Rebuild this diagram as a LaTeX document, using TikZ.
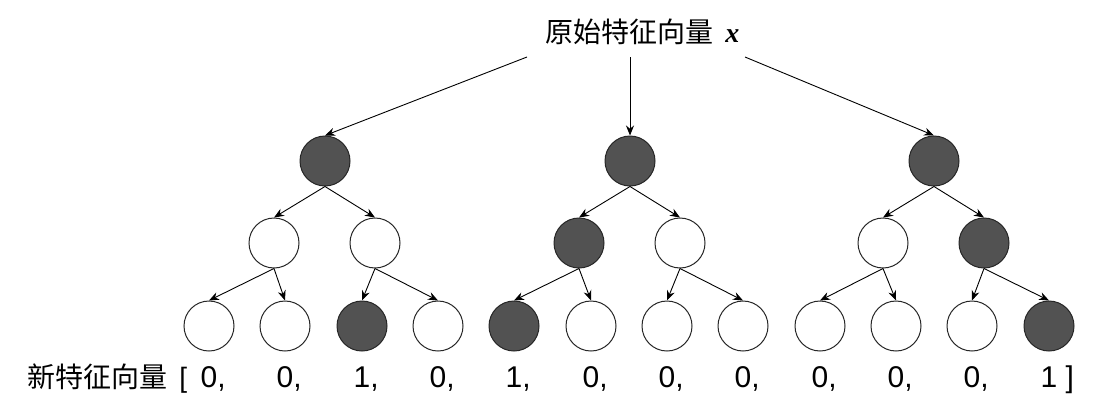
\documentclass[tikz,border=0pt]{standalone}
\usepackage{fontspec}
\setmainfont{Liberation Sans}
\newfontfamily\cjkfont{Noto Sans CJK SC}
\newfontfamily\varfont{Liberation Serif}
\usetikzlibrary{arrows.meta}
\tikzset{>={Stealth[length=10pt,width=8pt]}}
\tikzset{
  plainnode/.style={circle,draw=black!85,line width=1pt,minimum size=50pt,inner sep=0pt},
  darknode/.style={plainnode,fill=black!68},
  bigtext/.style={font=\fontsize{28pt}{34pt}\selectfont},
  bit/.style={font=\fontsize{30pt}{36pt}\selectfont,anchor=base},
}

\begin{document}
\begin{tikzpicture}[x=1pt,y=-1pt,line width=0.9pt]
    \useasboundingbox (0,0) rectangle (1120,410);
    % input vector on top
    \node[bigtext,anchor=base west,inner sep=0pt] (title) at (545,42)
      {\cjkfont 原始特征向量\hspace{12pt}{\varfont\bfseries\itshape x}};
    \coordinate (s1) at (527,57);
    \coordinate (s2) at (630,57);
    \coordinate (s3) at (745,57);
    % roots
    \node[darknode] (r1) at (325,161) {};
    \node[darknode] (r2) at (630,161) {};
    \node[darknode] (r3) at (934,161) {};
    % second level
    \node[plainnode] (a1) at (274,243) {};
    \node[plainnode] (b1) at (375,243) {};
    \node[darknode]  (a2) at (579,243) {};
    \node[plainnode] (b2) at (680,243) {};
    \node[plainnode] (a3) at (883,243) {};
    \node[darknode]  (b3) at (984,243) {};
    % leaves
    \node[plainnode] (l1)  at (209,326) {};
    \node[plainnode] (l2)  at (285,326) {};
    \node[darknode]  (l3)  at (362,326) {};
    \node[plainnode] (l4)  at (438,326) {};
    \node[darknode]  (l5)  at (514,326) {};
    \node[plainnode] (l6)  at (591,326) {};
    \node[plainnode] (l7)  at (667,326) {};
    \node[plainnode] (l8)  at (743,326) {};
    \node[plainnode] (l9)  at (820,326) {};
    \node[plainnode] (l10) at (896,326) {};
    \node[plainnode] (l11) at (972,326) {};
    \node[darknode]  (l12) at (1049,326) {};
    % arrows
    \draw[->] (s1) -- (r1.north);
    \draw[->] (s2) -- (r2.north);
    \draw[->] (s3) -- (r3.north);
    \draw[->] (r1.south) -- (a1.north);
    \draw[->] (r1.south) -- (b1.north);
    \draw[->] (r2.south) -- (a2.north);
    \draw[->] (r2.south) -- (b2.north);
    \draw[->] (r3.south) -- (a3.north);
    \draw[->] (r3.south) -- (b3.north);
    \draw[->] (a1.south) -- (l1.north);
    \draw[->] (a1.south) -- (l2.north);
    \draw[->] (b1.south) -- (l3.north);
    \draw[->] (b1.south) -- (l4.north);
    \draw[->] (a2.south) -- (l5.north);
    \draw[->] (a2.south) -- (l6.north);
    \draw[->] (b2.south) -- (l7.north);
    \draw[->] (b2.south) -- (l8.north);
    \draw[->] (a3.south) -- (l9.north);
    \draw[->] (a3.south) -- (l10.north);
    \draw[->] (b3.south) -- (l11.north);
    \draw[->] (b3.south) -- (l12.north);
    % new feature vector
    \node[bigtext,anchor=base west,inner sep=0pt] (newvec) at (27,387)
      {{\cjkfont 新特征向量}\hspace{12pt}[};
    \node[bit] (v1)  at (209,387)  {0\rlap{,}};
    \node[bit] (v2)  at (285,387)  {0\rlap{,}};
    \node[bit] (v3)  at (362,387)  {1\rlap{,}};
    \node[bit] (v4)  at (438,387)  {0\rlap{,}};
    \node[bit] (v5)  at (514,387)  {1\rlap{,}};
    \node[bit] (v6)  at (591,387)  {0\rlap{,}};
    \node[bit] (v7)  at (667,387)  {0\rlap{,}};
    \node[bit] (v8)  at (743,387)  {0\rlap{,}};
    \node[bit] (v9)  at (820,387)  {0\rlap{,}};
    \node[bit] (v10) at (896,387)  {0\rlap{,}};
    \node[bit] (v11) at (972,387)  {0\rlap{,}};
    \node[bit] (v12) at (1049,387) {1\rlap{ ]}};
\end{tikzpicture}
\end{document}
